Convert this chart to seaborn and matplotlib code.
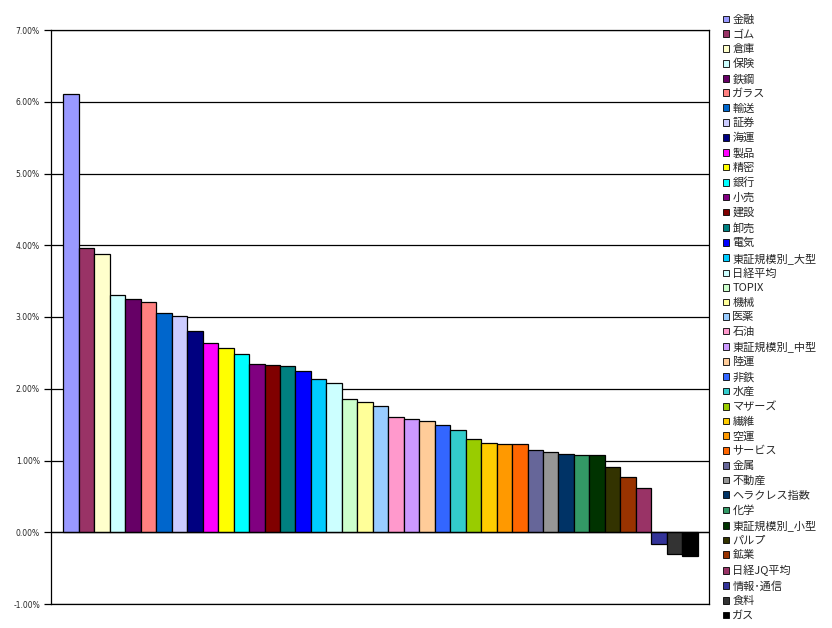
import matplotlib
matplotlib.use("Agg")
import matplotlib.pyplot as plt
from matplotlib.patches import Patch
from matplotlib.ticker import FuncFormatter, MultipleLocator
import pandas as pd
import seaborn as sns

sectors = ["金融", "ゴム", "倉庫", "保険", "鉄鋼", "ガラス", "輸送", "証券", "海運", "製品",
           "精密", "銀行", "小売", "建設", "卸売", "電気", "東証規模別_大型", "日経平均", "TOPIX", "機械",
           "医薬", "石油", "東証規模別_中型", "陸運", "非鉄", "水産", "マザーズ", "繊維", "空運", "サービス",
           "金属", "不動産", "ヘラクレス指数", "化学", "東証規模別_小型", "パルプ", "鉱業", "日経JQ平均", "情報･通信", "食料",
           "ガス"]
returns = [6.11, 3.96, 3.88, 3.30, 3.25, 3.21, 3.06, 3.02, 2.81, 2.64,
           2.57, 2.49, 2.35, 2.33, 2.32, 2.25, 2.14, 2.08, 1.86, 1.81,
           1.76, 1.61, 1.58, 1.55, 1.50, 1.43, 1.30, 1.25, 1.23, 1.23,
           1.15, 1.12, 1.09, 1.08, 1.07, 0.91, 0.77, 0.61, -0.16, -0.31,
           -0.33]
colors = ["#9999FF", "#993366", "#FFFFCC", "#CCFFFF", "#660066", "#FF8080", "#0066CC", "#CCCCFF", "#000080", "#FF00FF",
          "#FFFF00", "#00FFFF", "#800080", "#800000", "#008080", "#0000FF", "#00CCFF", "#CCFFFF", "#CCFFCC", "#FFFF99",
          "#99CCFF", "#FF99CC", "#CC99FF", "#FFCC99", "#3366FF", "#33CCCC", "#99CC00", "#FFCC00", "#FF9900", "#FF6600",
          "#666699", "#969696", "#003366", "#339966", "#003300", "#333300", "#993300", "#993366", "#333399", "#333333",
          "#000000"]

df = pd.DataFrame({"sector": sectors, "ret": returns})

sns.set_theme(style="white")
plt.rcParams["font.family"] = ["Noto Sans CJK JP", "DejaVu Sans"]

fig = plt.figure(figsize=(8.32, 6.28), dpi=100)
ax = fig.add_axes([51 / 832, 24 / 628, 658 / 832, 574 / 628])

sns.barplot(data=df, x="sector", y="ret", hue="sector", palette=colors, legend=False,
            width=1.0, edgecolor="black", linewidth=0.9, saturation=1, ax=ax, zorder=3)

ax.set_ylim(-1, 7)
ax.set_xlim(-1.3, len(sectors) - 0.5 + 0.73)
ax.yaxis.set_major_locator(MultipleLocator(1))
ax.yaxis.set_major_formatter(FuncFormatter(lambda v, p: f"{v:.2f}%"))
ax.grid(axis="y", color="black", linewidth=0.9, zorder=0)
ax.axhline(0, color="black", linewidth=0.9, zorder=4)
ax.set_xticks([])
ax.set_xlabel("")
ax.set_ylabel("")
for s in ax.spines.values():
    s.set_color("black")
    s.set_linewidth(0.9)
ax.tick_params(axis="y", left=True, length=5, width=0.9, color="black", pad=3,
               labelsize=5.5, labelfontfamily="DejaVu Sans")

handles = [Patch(facecolor=c, edgecolor="black", linewidth=0.6) for c in colors]
fig.legend(handles, sectors, loc="upper left", bbox_to_anchor=(723 / 832, 1 - 15 / 628),
           frameon=False, fontsize=8, handlelength=0.55, handleheight=0.55,
           handletextpad=0.3, labelspacing=0.41, borderaxespad=0, borderpad=0)

fig.savefig("out.png", dpi=100, facecolor="white")
